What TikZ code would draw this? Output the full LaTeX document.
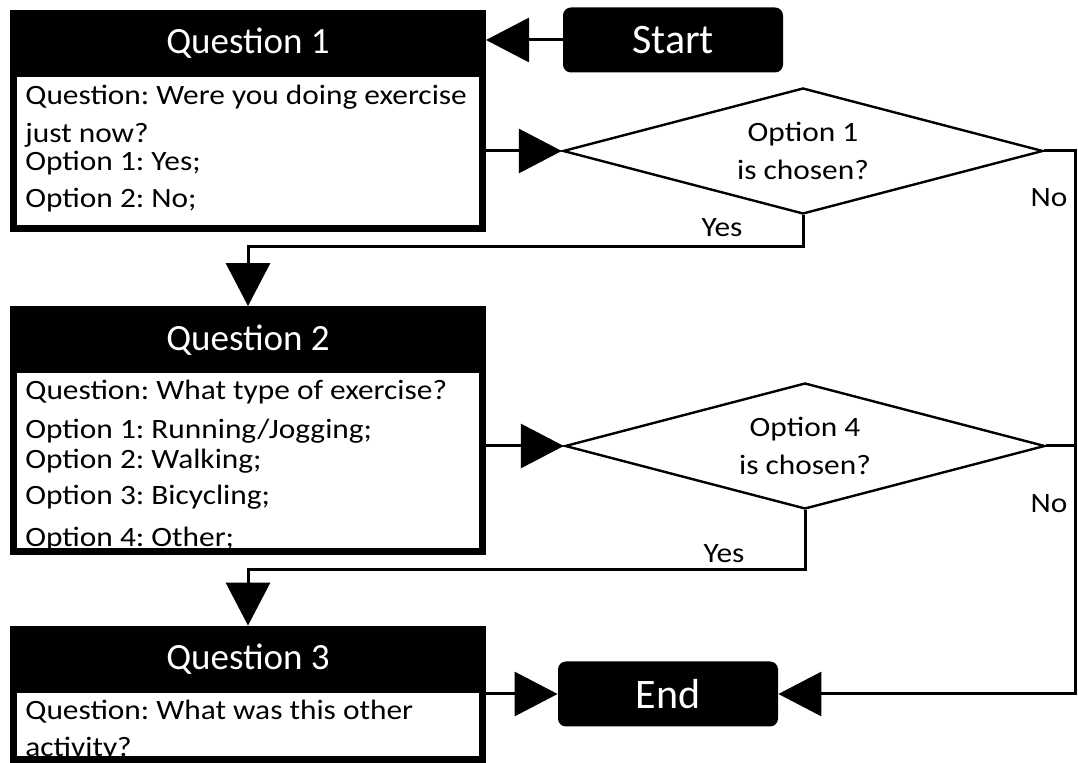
\documentclass[tikz,border=0pt]{standalone}
\usepackage{fontspec}
\setmainfont{Carlito}
\newfontfamily\bodyfont[FakeStretch=1.12]{Carlito}
\usetikzlibrary{arrows.meta, shapes.geometric, positioning}
\frenchspacing

\begin{document}
\begin{tikzpicture}[
  x=0.5pt, y=-0.5pt,
  qhead/.style={rectangle, fill=black, text=white, inner sep=0pt,
                minimum width=238pt, minimum height=33.5pt,
                font=\fontsize{18.5}{22}\selectfont},
  qframe/.style={rectangle, draw=black, line width=3.5pt, inner sep=0pt,
                 minimum width=234.5pt},
  qtext/.style={anchor=base west, align=left, inner sep=0pt,
                font=\bodyfont\fontsize{14}{15}\selectfont},
  term/.style={rectangle, rounded corners=4pt, fill=black, text=white,
               minimum width=110pt, minimum height=32.5pt,
               font=\fontsize{21}{25}\selectfont},
  decide/.style={diamond, aspect=3.77, draw=black, line width=1.2pt,
                 inner sep=0pt, minimum width=240pt, minimum height=63pt,
                 align=center, font=\bodyfont\fontsize{14}{19}\selectfont},
  lab/.style={anchor=base, inner sep=0pt,
              font=\bodyfont\fontsize{14}{15}\selectfont},
  arr/.style={-{Triangle[length=21.5pt, width=22pt]}, line width=1.5pt},
  wire/.style={line width=1.5pt}
]
\useasboundingbox (0,0) rectangle (1078,763);

% Terminals
\node[term] (start) at (673,40) {Start};
\node[term] (end)   at (668,694) {End};

% Question 1 (text anchored on its last baseline)
\node[qhead] (q1) at (248,43.5) {Question 1};
\node[qtext] (q1t) at (25,208)
    {Question: Were you doing exercise\\[4pt]
     just now?\\[-1pt]
     Option 1: Yes;\\[3.5pt]
     Option 2: No;};
\node[qframe, minimum height=107.5pt] (q1box) at (248,121) {};

% Question 2
\node[qhead] (q2) at (248,340) {Question 2};
\node[qtext] (q2t) at (25,547)
    {Question: What type of exercise?\\[4.5pt]
     Option 1: Running/Jogging;\\
     Option 2: Walking;\\[3pt]
     Option 3: Bicycling;\\[6pt]
     Option 4: Other;};
\node[qframe, minimum height=120.5pt] (q2box) at (248,431) {};

% Question 3
\node[qhead] (q3) at (248,659.5) {Question 3};
\node[qtext] (q3t) at (25,757)
    {Question: What was this other\\[3.5pt]
     activity?};
\node[qframe, minimum height=65pt] (q3box) at (248,694.5) {};

% Decisions
\node[decide] (d1) at (803,151) {Option 1\\is chosen?};
\node[decide] (d2) at (805,446) {Option 4\\is chosen?};
\coordinate (rail) at (1075,0);

% Labels
\node[lab] (yes1) at (722,237) {Yes};
\node[lab] (no1)  at (1049,207) {No};
\node[lab] (yes2) at (724,563) {Yes};
\node[lab] (no2)  at (1049,513) {No};

% Main flow
\draw[arr] (start.west) -- (start.west -| q1box.east);
\draw[arr] (q1box.east |- d1.west) -- (d1.west);
\draw[arr] (q2box.east |- d2.west) -- (d2.west);
\draw[arr] (q3box.east |- end.west) -- (end.west);

% Yes branches
\draw[arr] (d1.south) -- ++(0,31) -| (q2.north);
\draw[arr] (d2.south) -- ++(0,59) -| (q3.north);

% No branches
\draw[wire] (d2.east) -- (d2.east -| rail);
\draw[arr] (d1.east) -- (d1.east -| rail) |- (end.east);
\end{tikzpicture}
\end{document}
